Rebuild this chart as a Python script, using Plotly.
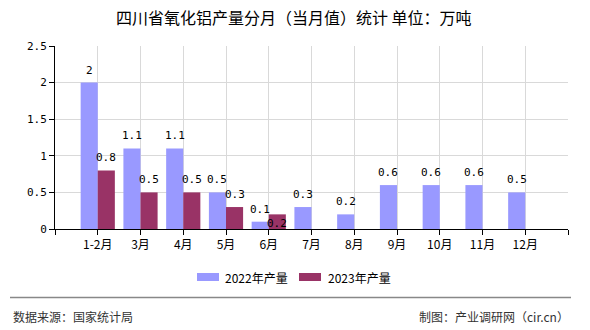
import plotly.graph_objects as go

# Monthly alumina output in Sichuan province (10k tonnes)
months = ["1-2月", "3月", "4月", "5月", "6月", "7月", "8月", "9月", "10月", "11月", "12月"]
output_2022 = [2, 1.1, 1.1, 0.5, 0.1, 0.3, 0.2, 0.6, 0.6, 0.6, 0.5]
output_2023 = [0.8, 0.5, 0.5, 0.3, 0.2, None, None, None, None, None, None]
series_names = ["2022年产量", "2023年产量"]
y_ticks = [0, 0.5, 1, 1.5, 2, 2.5]

color_2022 = "#9999FF"
color_2023 = "#993366"
num_font = dict(family="DejaVu Sans Mono, monospace", size=11, color="#000000")
cjk = "Noto Sans CJK SC"

W, H = 590, 330
M_L, M_R, M_T, M_B = 55, 22, 46, 101
plot_w = W - M_L - M_R
plot_h = H - M_T - M_B


def px_x(px):
    """pixel x -> paper x"""
    return (px - M_L) / plot_w


def px_y(py):
    """pixel y -> paper y"""
    return (H - M_B - py) / plot_h


idx = list(range(len(months)))
offset = 0.2

fig = go.Figure()
fig.add_trace(go.Bar(x=idx, y=output_2022, name=series_names[0], marker_color=color_2022,
                     offsetgroup="a", marker_line_width=0, showlegend=False))
fig.add_trace(go.Bar(x=idx, y=output_2023, name=series_names[1], marker_color=color_2023,
                     offsetgroup="b", marker_line_width=0, showlegend=False))

# value labels above each bar
annotations = []
for series, dx in ((output_2022, -offset), (output_2023, offset)):
    for i, v in enumerate(series):
        if v is None:
            continue
        crowded = (series is output_2023 and months[i] == "6月")
        annotations.append(dict(
            x=i + dx, y=v, xref="x", yref="y", text=f"{v:g}", showarrow=False,
            font=num_font, yanchor="middle" if crowded else "bottom",
            yshift=-9 if crowded else 4,
        ))

# title and footer
annotations += [
    dict(text="四川省氧化铝产量分月（当月值）统计 单位：万吨", xref="paper", yref="paper",
         x=px_x(294), y=px_y(17.5), xanchor="center", yanchor="middle", showarrow=False,
         font=dict(family=cjk, size=16, color="#000000")),
    dict(text="数据来源：国家统计局", xref="paper", yref="paper", x=px_x(11), y=px_y(316.5),
         xanchor="left", yanchor="middle", showarrow=False,
         font=dict(family=cjk, size=12, color="#333333")),
    dict(text="制图：产业调研网（cir.cn）", xref="paper", yref="paper", x=px_x(571),
         y=px_y(316.5), xanchor="right", yanchor="middle", showarrow=False,
         font=dict(family=cjk, size=12, color="#333333")),
]

# legend: wide colour swatches with the series names beside them
shapes = []
legend_items = [(197, 223, color_2022, series_names[0]),
                (299, 325.5, color_2023, series_names[1])]
for sx, tx, col, name in legend_items:
    shapes.append(dict(type="rect", xref="paper", yref="paper",
                       x0=px_x(sx), x1=px_x(sx + 22), y0=px_y(281), y1=px_y(273),
                       fillcolor=col, line=dict(width=0)))
    annotations.append(dict(text=name, xref="paper", yref="paper", x=px_x(tx), y=px_y(277),
                            xanchor="left", yanchor="middle", showarrow=False,
                            font=dict(family=cjk, size=12, color="#000000")))

# separator above the footer
shapes.append(dict(type="line", xref="paper", yref="paper", x0=px_x(10), x1=px_x(571),
                   y0=px_y(297.5), y1=px_y(297.5), line=dict(color="#888888", width=1.5)))

fig.update_layout(
    width=W, height=H,
    margin=dict(l=M_L, r=M_R, t=M_T, b=M_B),
    paper_bgcolor="#FFFFFF", plot_bgcolor="#FFFFFF",
    barmode="group", bargap=0.2, bargroupgap=0,
    showlegend=False,
    annotations=annotations,
    shapes=shapes,
)

fig.update_xaxes(
    range=[-1, len(months)], tickmode="array",
    tickvals=[-1] + idx + [len(months)], ticktext=[""] + months + [""],
    showgrid=True, gridcolor="#D9D9D9", gridwidth=1,
    showline=True, linecolor="#000000", linewidth=1,
    ticks="outside", ticklen=5, tickcolor="#000000",
    tickfont=dict(family=cjk, size=12, color="#000000"),
    zeroline=False, fixedrange=True,
)
fig.update_yaxes(
    range=[0, 2.5], tickmode="array", tickvals=y_ticks,
    ticktext=[f"{t:g}" for t in y_ticks],
    showgrid=True, gridcolor="#D9D9D9", gridwidth=1,
    showline=True, linecolor="#000000", linewidth=1,
    ticks="outside", ticklen=5, tickcolor="#000000",
    tickfont=num_font, zeroline=False, fixedrange=True,
)

fig.write_html("out.html")
